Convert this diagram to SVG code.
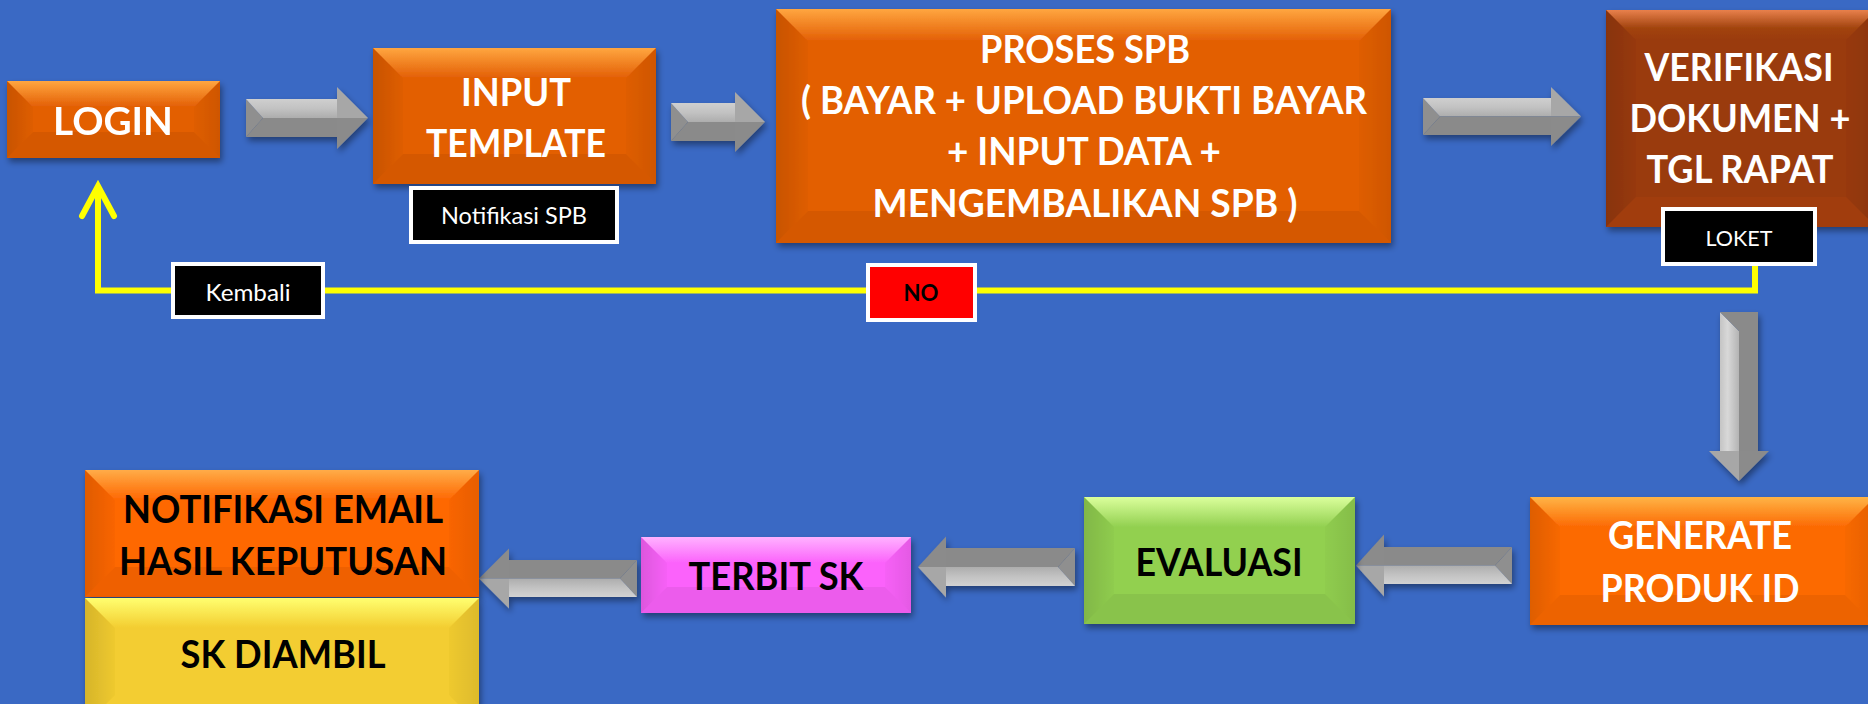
<svg xmlns="http://www.w3.org/2000/svg" width="1868" height="704" viewBox="0 0 1868 704">
<style>
.t{font-family:Lato,"Liberation Sans",sans-serif;font-weight:700;font-size:39px;text-anchor:middle}
.w{fill:#fff}
.k{fill:#000}
.lb{font-family:Lato,"Liberation Sans",sans-serif;font-weight:400;font-size:24px;fill:#fff;text-anchor:middle}
.tag{fill:#000;stroke:#fff;stroke-width:4}
.bl{fill:url(#gl)}
.br{fill:url(#gr)}
.bb{fill:#000;opacity:.06}
.ad{fill:#8a8a8a}
.at{fill:#8f8f8f}
.ahl{fill:#a7a7a7}
.ahd{fill:#8b8b8b}
.ylw{fill:none;stroke:#ffff00;stroke-width:6}
</style>
<defs>
<filter id="sh" x="-20%" y="-20%" width="140%" height="150%">
<feDropShadow dx="2" dy="4" stdDeviation="3" flood-color="#000" flood-opacity="0.4"/>
</filter>
<linearGradient id="gl" x1="0" y1="0" x2="1" y2="0"><stop offset="0" stop-color="#000" stop-opacity=".12"/><stop offset="1" stop-color="#000" stop-opacity=".02"/></linearGradient>
<linearGradient id="gr" x1="0" y1="0" x2="1" y2="0"><stop offset="0" stop-color="#000" stop-opacity=".02"/><stop offset="1" stop-color="#000" stop-opacity=".09"/></linearGradient>
<linearGradient id="tOr" x1="0" y1="0" x2="0" y2="1"><stop offset="0" stop-color="#ffa640"/><stop offset="1" stop-color="#e35f05"/></linearGradient>
<linearGradient id="tBr" x1="0" y1="0" x2="0" y2="1"><stop offset="0" stop-color="#e8804c"/><stop offset=".6" stop-color="#a2440f"/><stop offset="1" stop-color="#9a3a0b"/></linearGradient>
<linearGradient id="tGo" x1="0" y1="0" x2="0" y2="1"><stop offset="0" stop-color="#ffb446"/><stop offset="1" stop-color="#fc6a03"/></linearGradient>
<linearGradient id="tNo" x1="0" y1="0" x2="0" y2="1"><stop offset="0" stop-color="#ffac48"/><stop offset="1" stop-color="#fe6701"/></linearGradient>
<linearGradient id="tYe" x1="0" y1="0" x2="0" y2="1"><stop offset="0" stop-color="#ffff70"/><stop offset="1" stop-color="#f3cd30"/></linearGradient>
<linearGradient id="tMa" x1="0" y1="0" x2="0" y2="1"><stop offset="0" stop-color="#ffb2ff"/><stop offset="1" stop-color="#fb62fb"/></linearGradient>
<linearGradient id="tGr" x1="0" y1="0" x2="0" y2="1"><stop offset="0" stop-color="#dbff9c"/><stop offset="1" stop-color="#92d050"/></linearGradient>
<linearGradient id="aU" x1="0" y1="0" x2="0" y2="1"><stop offset="0" stop-color="#cfcfcf"/><stop offset=".5" stop-color="#c2c2c2"/><stop offset="1" stop-color="#adadad"/></linearGradient>
<linearGradient id="aL" x1="0" y1="0" x2="0" y2="1"><stop offset="0" stop-color="#adadad"/><stop offset=".5" stop-color="#c2c2c2"/><stop offset="1" stop-color="#d2d2d2"/></linearGradient>
<linearGradient id="aV" x1="0" y1="0" x2="1" y2="0"><stop offset="0" stop-color="#c4c4c4"/><stop offset=".4" stop-color="#d8d8d8"/><stop offset="1" stop-color="#b4b4b4"/></linearGradient>
</defs>
<rect x="0" y="0" width="1868" height="704" fill="#3a69c4"/>

<g id="connectors">
<g id="arrow-login-input" filter="url(#sh)">
<polygon class="at" points="246,99 263,118 246,137"/>
<polygon fill="url(#aU)" points="246,99 337,99 337,118 263,118"/>
<polygon class="ad" points="263,118 337,118 337,137 246,137"/>
<polygon class="ahl" points="337,87 368,118 337,118"/>
<polygon class="ahd" points="337,118 368,118 337,149"/>
</g>
<g id="arrow-input-proses" filter="url(#sh)">
<polygon class="at" points="671,103 688,122 671,141"/>
<polygon fill="url(#aU)" points="671,103 735,103 735,122 688,122"/>
<polygon class="ad" points="688,122 735,122 735,141 671,141"/>
<polygon class="ahl" points="735,92 765,122 735,122"/>
<polygon class="ahd" points="735,122 765,122 735,152"/>
</g>
<g id="arrow-proses-verif" filter="url(#sh)">
<polygon class="at" points="1423,98 1440,116.5 1423,135"/>
<polygon fill="url(#aU)" points="1423,98 1551,98 1551,116.5 1440,116.5"/>
<polygon class="ad" points="1440,116.5 1551,116.5 1551,135 1423,135"/>
<polygon class="ahl" points="1551,87 1581,116.5 1551,116.5"/>
<polygon class="ahd" points="1551,116.5 1581,116.5 1551,146"/>
</g>
<g id="arrow-verif-generate" filter="url(#sh)">
<polygon fill="url(#aV)" points="1720,312 1739,331 1739,451 1720,451"/>
<polygon class="ad" points="1720,312 1758,312 1758,451 1739,451 1739,331"/>
<polygon class="ahl" points="1709,451 1739,451 1739,481"/>
<polygon class="ahd" points="1739,451 1769,451 1739,481"/>
</g>
<g id="arrow-generate-evaluasi" filter="url(#sh)">
<polygon class="at" points="1512,584 1495,565.5 1512,547"/>
<polygon class="ad" points="1495,565.5 1384,565.5 1384,547 1512,547"/>
<polygon fill="url(#aL)" points="1512,584 1384,584 1384,565.5 1495,565.5"/>
<polygon class="ahd" points="1384,534.5 1356,565.5 1384,565.5"/>
<polygon class="ahl" points="1384,565.5 1356,565.5 1384,596.5"/>
</g>
<g id="arrow-evaluasi-terbit" filter="url(#sh)">
<polygon class="at" points="1075,586 1058,567 1075,548"/>
<polygon class="ad" points="1058,567 946,567 946,548 1075,548"/>
<polygon fill="url(#aL)" points="1075,586 946,586 946,567 1058,567"/>
<polygon class="ahd" points="946,536.5 918,567 946,567"/>
<polygon class="ahl" points="946,567 918,567 946,597.5"/>
</g>
<g id="arrow-terbit-notif" filter="url(#sh)">
<polygon class="at" points="637,597 620,578.5 637,560"/>
<polygon class="ad" points="620,578.5 509,578.5 509,560 637,560"/>
<polygon fill="url(#aL)" points="637,597 509,597 509,578.5 620,578.5"/>
<polygon class="ahd" points="509,548.5 479,578.5 509,578.5"/>
<polygon class="ahl" points="509,578.5 479,578.5 509,608.5"/>
</g>
<g id="return-line">
<path class="ylw" d="M1755,266 V290.5 H98 V188"/>
<polyline class="ylw" stroke-linecap="round" points="82,216 98,186 114,216"/>
</g>
<g id="label-kembali">
<rect class="tag" x="173" y="264" width="150" height="53"/>
<text class="lb" x="248" y="301" textLength="85" lengthAdjust="spacingAndGlyphs">Kembali</text>
</g>
<g id="label-no">
<rect x="868" y="265" width="107" height="55" fill="#ff0000" stroke="#fff" stroke-width="4"/>
<text class="t k" x="921" y="301" style="font-size:22px" textLength="35" lengthAdjust="spacingAndGlyphs">NO</text>
</g>
</g>

<g id="login" filter="url(#sh)">
<rect x="7" y="81" width="213" height="77" fill="#e35f05"/>
<polygon fill="url(#tOr)" points="7,81 220,81 194,107 33,107"/>
<polygon class="bl" points="7,81 33,107 33,132 7,158"/>
<polygon class="br" points="220,81 220,158 194,132 194,107"/>
<polygon class="bb" points="7,158 33,132 194,132 220,158"/>
<text class="t w" x="113" y="135" textLength="120" lengthAdjust="spacingAndGlyphs">LOGIN</text>
</g>

<g id="input-template">
<g filter="url(#sh)">
<rect x="373" y="48" width="283" height="136" fill="#e35f05"/>
<polygon fill="url(#tOr)" points="373,48 656,48 626,78 403,78"/>
<polygon class="bl" points="373,48 403,78 403,154 373,184"/>
<polygon class="br" points="656,48 656,184 626,154 626,78"/>
<polygon class="bb" points="373,184 403,154 626,154 656,184"/>
</g>
<text class="t w" x="516" y="106" textLength="110" lengthAdjust="spacingAndGlyphs">INPUT</text>
<text class="t w" x="516" y="157" textLength="180" lengthAdjust="spacingAndGlyphs">TEMPLATE</text>
<rect class="tag" x="411" y="188" width="206" height="54"/>
<text class="lb" x="514" y="224" textLength="146" lengthAdjust="spacingAndGlyphs">Notifikasi SPB</text>
</g>

<g id="proses-spb">
<g filter="url(#sh)">
<rect x="776" y="9" width="615" height="234" fill="#e35f05"/>
<polygon fill="url(#tOr)" points="776,9 1391,9 1359,41 808,41"/>
<polygon class="bl" points="776,9 808,41 808,211 776,243"/>
<polygon class="br" points="1391,9 1391,243 1359,211 1359,41"/>
<polygon class="bb" points="776,243 808,211 1359,211 1391,243"/>
</g>
<text class="t w" x="1085" y="63" textLength="210" lengthAdjust="spacingAndGlyphs">PROSES SPB</text>
<text class="t w" x="1084" y="114" textLength="566" lengthAdjust="spacingAndGlyphs">( BAYAR + UPLOAD BUKTI BAYAR</text>
<text class="t w" x="1084" y="165" textLength="274" lengthAdjust="spacingAndGlyphs">+ INPUT DATA +</text>
<text class="t w" x="1085" y="217" textLength="425" lengthAdjust="spacingAndGlyphs">MENGEMBALIKAN SPB )</text>
</g>

<g id="verifikasi">
<g filter="url(#sh)">
<rect x="1606" y="10" width="270" height="217" fill="#9a3a0b"/>
<polygon fill="url(#tBr)" points="1606,10 1876,10 1846,40 1636,40"/>
<polygon class="bl" points="1606,10 1636,40 1636,197 1606,227"/>
<polygon class="br" points="1876,10 1876,227 1846,197 1846,40"/>
<polygon fill="#c0501a" opacity=".2" points="1606,227 1636,197 1846,197 1876,227"/>
</g>
<text class="t w" x="1739" y="81" textLength="189" lengthAdjust="spacingAndGlyphs">VERIFIKASI</text>
<text class="t w" x="1740" y="132" textLength="221" lengthAdjust="spacingAndGlyphs">DOKUMEN +</text>
<text class="t w" x="1740" y="183" textLength="187" lengthAdjust="spacingAndGlyphs">TGL RAPAT</text>
<rect class="tag" x="1663" y="209" width="152" height="55"/>
<text class="lb" x="1739" y="246" style="font-size:22px" textLength="67" lengthAdjust="spacingAndGlyphs">LOKET</text>
</g>

<g id="generate-produk-id">
<g filter="url(#sh)">
<rect x="1530" y="497" width="345" height="128" fill="#fc6a03"/>
<polygon fill="url(#tGo)" points="1530,497 1875,497 1845,527 1560,527"/>
<polygon class="bl" points="1530,497 1560,527 1560,595 1530,625"/>
<polygon class="br" points="1875,497 1875,625 1845,595 1845,527"/>
<polygon class="bb" points="1530,625 1560,595 1845,595 1875,625"/>
</g>
<text class="t w" x="1700" y="549" textLength="184" lengthAdjust="spacingAndGlyphs">GENERATE</text>
<text class="t w" x="1700" y="602" textLength="199" lengthAdjust="spacingAndGlyphs">PRODUK ID</text>
</g>

<g id="evaluasi">
<g filter="url(#sh)">
<rect x="1084" y="497" width="271" height="127" fill="#92d050"/>
<polygon fill="url(#tGr)" points="1084,497 1355,497 1325,527 1114,527"/>
<polygon class="bl" points="1084,497 1114,527 1114,594 1084,624"/>
<polygon class="br" points="1355,497 1355,624 1325,594 1325,527"/>
<polygon class="bb" points="1084,624 1114,594 1325,594 1355,624"/>
</g>
<text class="t k" x="1219" y="576" textLength="167" lengthAdjust="spacingAndGlyphs">EVALUASI</text>
</g>

<g id="terbit-sk">
<g filter="url(#sh)">
<rect x="641" y="537" width="270" height="76" fill="#fb62fb"/>
<polygon fill="url(#tMa)" points="641,537 911,537 885,563 667,563"/>
<polygon class="bl" points="641,537 667,563 667,587 641,613"/>
<polygon class="br" points="911,537 911,613 885,587 885,563"/>
<polygon class="bb" points="641,613 667,587 885,587 911,613"/>
</g>
<text class="t k" x="776" y="590" textLength="175" lengthAdjust="spacingAndGlyphs">TERBIT SK</text>
</g>

<g id="notifikasi-email">
<g filter="url(#sh)">
<rect x="85" y="470" width="394" height="127" fill="#fe6701"/>
<polygon fill="url(#tNo)" points="85,470 479,470 449,500 115,500"/>
<polygon class="bl" points="85,470 115,500 115,567 85,597"/>
<polygon class="br" points="479,470 479,597 449,567 449,500"/>
<polygon class="bb" points="85,597 115,567 449,567 479,597"/>
</g>
<text class="t k" x="283" y="523" textLength="320" lengthAdjust="spacingAndGlyphs">NOTIFIKASI EMAIL</text>
<text class="t k" x="283" y="575" textLength="328" lengthAdjust="spacingAndGlyphs">HASIL KEPUTUSAN</text>
</g>

<g id="sk-diambil">
<g filter="url(#sh)">
<rect x="85" y="598" width="394" height="127" fill="#f3cd30"/>
<polygon fill="url(#tYe)" points="85,598 479,598 449,628 115,628"/>
<polygon class="bl" points="85,598 115,628 115,695 85,725"/>
<polygon class="br" points="479,598 479,725 449,695 449,628"/>
</g>
<text class="t k" x="283" y="668" textLength="205" lengthAdjust="spacingAndGlyphs">SK DIAMBIL</text>
</g>
</svg>
